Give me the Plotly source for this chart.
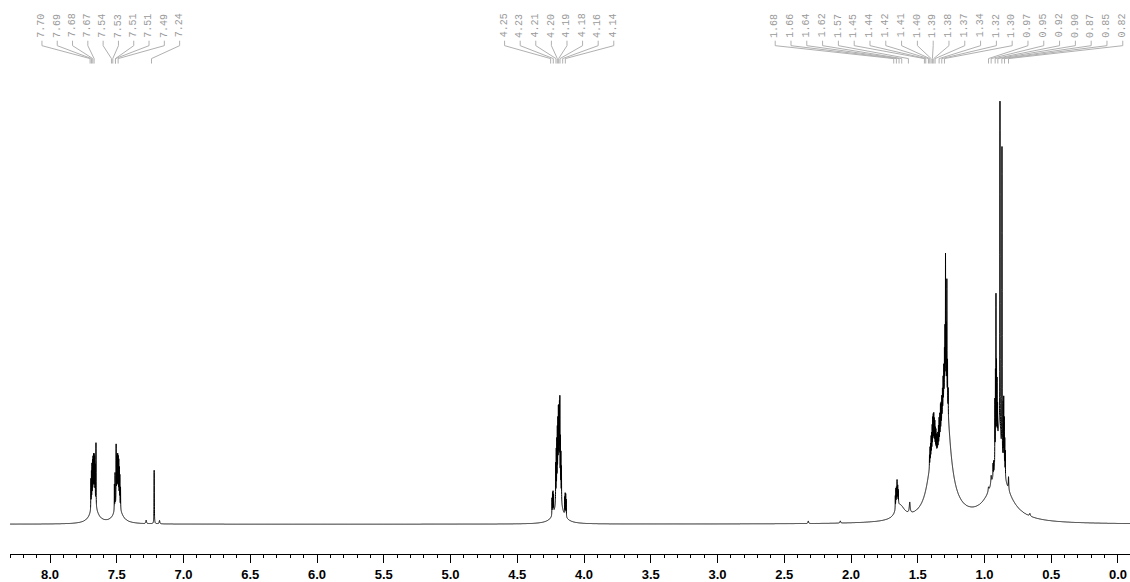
import numpy as np
import plotly.graph_objects as go

# ---------------- data ----------------
# peak list: chemical shift (ppm), height (% of tallest), half width (ppm)
arom_shift  = [7.67, 7.672,
               7.694, 7.690, 7.686, 7.682, 7.678, 7.674, 7.670, 7.666, 7.662, 7.656,
               7.49, 7.495,
               7.518, 7.513, 7.505, 7.501, 7.497, 7.493, 7.489, 7.485, 7.481, 7.477, 7.472,
               7.22, 7.28, 7.18]
arom_height = [2.5, 4.0,
               7, 8, 9, 9, 9, 9, 9, 9, 8, 14.5,
               2.5, 4.0,
               6, 8, 13, 9, 9, 9, 9, 9, 8, 7, 5,
               12.5, 0.8, 0.8]
arom_width  = [0.04, 0.015,
               0.0008, 0.0008, 0.0008, 0.0008, 0.0008, 0.0008, 0.0008, 0.0008, 0.0008, 0.0008,
               0.04, 0.015,
               0.0008, 0.0008, 0.0008, 0.0008, 0.0008, 0.0008, 0.0008, 0.0008, 0.0008, 0.0008,
               0.0008,
               0.0012, 0.003, 0.003]

mid_shift  = [4.19, 4.19,
              4.212, 4.208, 4.204, 4.200, 4.196, 4.192, 4.188, 4.184, 4.181, 4.177, 4.173, 4.169,
              4.240, 4.236, 4.232, 4.228, 4.145, 4.141, 4.137, 4.133]
mid_height = [3.5, 9,
              9, 11, 12, 13, 13, 14, 14, 16, 19, 12, 10, 8,
              4, 5, 5, 4, 4, 5, 5, 4]
mid_width  = [0.04, 0.012] + [0.0008] * 20

ali_shift  = [1.63, 1.655, 1.668, 1.664, 1.660, 1.655, 1.650, 1.645, 1.56,
              1.31, 1.29, 1.40, 1.38,
              1.412, 1.408, 1.404, 1.400, 1.396, 1.392, 1.388, 1.384, 1.380, 1.376, 1.372,
              1.368, 1.364, 1.360, 1.355, 1.350, 1.345, 1.340, 1.335, 1.330, 1.325, 1.320,
              1.315, 1.310, 1.305, 1.300, 1.296, 1.292, 1.287, 1.282, 1.277, 1.272,
              0.89, 0.89, 0.97, 0.95, 0.936, 0.932,
              0.922, 0.918, 0.914, 0.910, 0.906, 0.902, 0.884, 0.869,
              0.860, 0.856, 0.852, 0.848, 0.844, 0.82,
              2.08, 2.32, 0.66]
ali_height = [3, 2.5, 3, 4, 3.5, 4.5, 3.5, 3, 2.5,
              10, 20, 7, 4,
              3, 4, 4, 5, 5, 6, 7, 7, 7, 6, 6,
              5, 5, 4, 4, 4, 5, 6, 6, 7, 6, 6,
              6, 7, 8, 10, 14, 31, 15, 27, 10, 6,
              10, 12, 1, 2, 3, 3,
              15, 20, 37, 20, 15, 8, 77, 72,
              14, 16, 12, 8, 6, 3,
              0.5, 0.6, 0.6]
ali_width  = ([0.04, 0.01] + [0.0008] * 6 + [0.004] +
              [0.08, 0.035, 0.04, 0.015] +
              [0.0008] * 32 +
              [0.1, 0.02, 0.003, 0.003, 0.0008, 0.0008] +
              [0.0008] * 8 +
              [0.0008] * 5 + [0.002] +
              [0.003, 0.003, 0.004])

# peak-pick labels (top of chart)
labels_arom = ["7.70", "7.69", "7.68", "7.67", "7.54", "7.53", "7.51", "7.51", "7.49", "7.24"]
labels_mid = ["4.25", "4.23", "4.21", "4.20", "4.19", "4.18", "4.16", "4.14"]
labels_ali = ["1.68", "1.66", "1.64", "1.62", "1.57", "1.45", "1.44", "1.42", "1.41", "1.40",
              "1.39", "1.38", "1.37", "1.34", "1.32", "1.30",
              "0.97", "0.95", "0.92", "0.90", "0.87", "0.85", "0.82"]

tick_vals = [8.0, 7.5, 7.0, 6.5, 6.0, 5.5, 5.0, 4.5, 4.0, 3.5, 3.0, 2.5, 2.0, 1.5, 1.0, 0.5, 0.0]

# ---------------- build spectrum trace ----------------
X_MAX, X_MIN = 8.30, -0.09
x = np.arange(X_MIN, X_MAX, 0.00025)
shifts = np.array(arom_shift + mid_shift + ali_shift)
heights = np.array(arom_height + mid_height + ali_height)
widths = np.array(arom_width + mid_width + ali_width)
y = np.zeros_like(x)
for s, h, w in zip(shifts, heights, widths):
    y += h / (1.0 + ((x - s) / w) ** 2)

fig = go.Figure()
fig.add_trace(go.Scatter(x=x, y=y, mode="lines",
                         line=dict(color="black", width=1, simplify=False),
                         hoverinfo="skip", showlegend=False))

# ---------------- peak labels with leader lines ----------------
PX_PER_PPM = 133.5
BASE_PX = 528.0
UNIT_PX = 4.31


def ydata(ypix):
    return (BASE_PX - ypix) / UNIT_PX


groups = [(labels_arom, 7.545, 15.3), (labels_mid, 4.186, 15.6), (labels_ali, 1.266, 15.8)]
lx, ly = [], []
for labs, center, sp_px in groups:
    n = len(labs)
    spacing = sp_px / PX_PER_PPM
    for i, lab in enumerate(labs):
        xl = center + ((n - 1) / 2 - i) * spacing
        xt = float(lab)
        fig.add_annotation(x=xl, y=ydata(39), xref="x", yref="y", text=lab,
                           textangle=-90, showarrow=False, xanchor="center",
                           yanchor="bottom", borderpad=0,
                           font=dict(family="Liberation Mono", size=10, color="#9a9a9a"))
        lx += [xl, xl, xt, xt, None]
        ly += [ydata(41), ydata(46), ydata(59), ydata(64), None]

fig.add_trace(go.Scatter(x=lx, y=ly, mode="lines",
                         line=dict(color="#b0b0b0", width=1),
                         hoverinfo="skip", showlegend=False))

fig.update_layout(
    width=1130, height=582,
    margin=dict(l=10, r=0, t=0, b=24),
    paper_bgcolor="white", plot_bgcolor="white",
    xaxis=dict(range=[X_MAX, X_MIN], tickvals=tick_vals,
               ticktext=[f"{v:.1f}" for v in tick_vals],
               ticks="outside", ticklen=8, tickwidth=1, tickcolor="black",
               showline=True, linecolor="black", linewidth=1,
               showgrid=False, zeroline=False,
               minor=dict(dtick=0.1, tick0=0, ticks="outside", ticklen=3,
                          tickcolor="black", showgrid=False),
               tickfont=dict(family="Liberation Sans", size=13, color="black",
                             weight="bold")),
    yaxis=dict(range=[ydata(558), ydata(0)], visible=False),
)

fig.write_html("out.html",
               config={"displayModeBar": False},
               post_script="document.body.style.margin='0px';"
                           "document.body.style.overflow='hidden';")
